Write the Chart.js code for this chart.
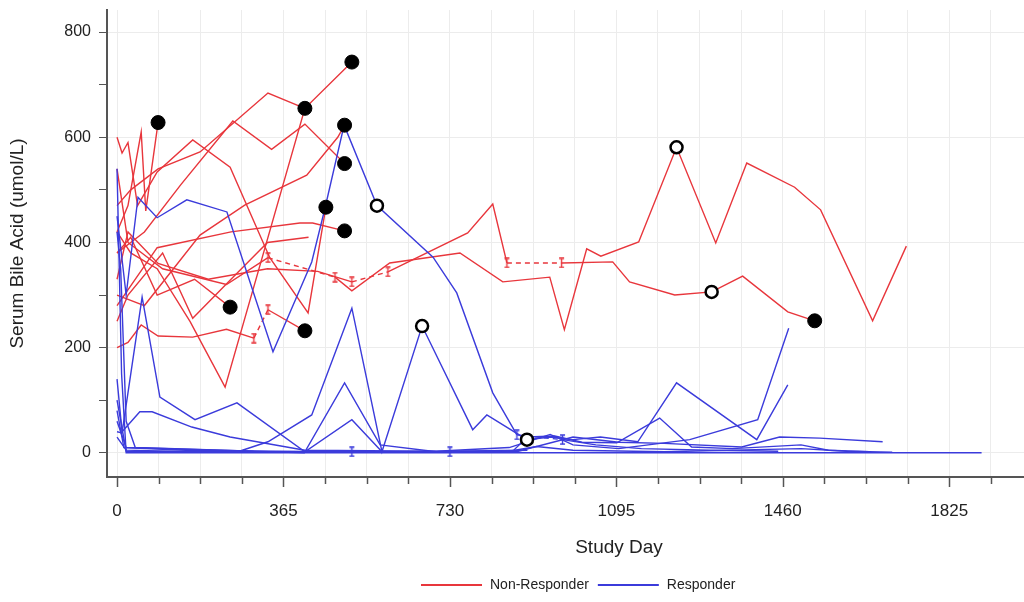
<!DOCTYPE html>
<html>
<head>
<meta charset="utf-8">
<script src="https://cdn.jsdelivr.net/npm/chart.js@4.4.1/dist/chart.umd.min.js"></script>
<style>
  html, body { margin: 0; padding: 0; background: #fff; }
</style>
</head>
<body>
<canvas id="chart" width="1024" height="602"></canvas>
<script>
// Axis labels
const xTickLabels = ['0', '365', '730', '1095', '1460', '1825'];
const yTickLabels = ['0', '200', '400', '600', '800'];
const legendLabels = ['Non-Responder', 'Responder'];

// Non-responders: [study day, serum bile acid]
const nonResponder01 = [[0, 420], [24, 470], [53, 610], [63, 460], [90, 628]];
const nonResponder02 = [[0, 600], [11, 570], [24, 590], [45, 470], [88, 534], [166, 595], [248, 543], [335, 371], [419, 266], [458, 467]];
const nonResponder03 = [[0, 470], [30, 500], [90, 540], [182, 572], [331, 684], [412, 655]];
const nonResponder04 = [[0, 380], [60, 420], [140, 510], [254, 631], [339, 577], [412, 625], [499, 550]];
const nonResponder05 = [[0, 420], [30, 380], [88, 350], [160, 250], [237, 125], [412, 655], [515, 743]];
const nonResponder06 = [[0, 300], [60, 280], [182, 414], [280, 471], [416, 528], [484, 600], [499, 623]];
const nonResponder07 = [[0, 280], [88, 390], [250, 420], [401, 437], [429, 437], [499, 422]];
const nonResponder08 = [[0, 200], [24, 210], [53, 243], [90, 222], [166, 220], [240, 235], [300, 218], [331, 272], [412, 232]];
const nonResponder09 = [[0, 380], [30, 410], [88, 300], [170, 330], [248, 277]];
const nonResponder10 = [[0, 250], [24, 300], [100, 380], [166, 256], [250, 330], [330, 400], [420, 410]];
const nonResponder11 = [[0, 540], [24, 400], [100, 350], [240, 320], [331, 371], [478, 334], [515, 308], [598, 361], [752, 380], [846, 325], [949, 334], [981, 234], [1030, 388], [1061, 374], [1144, 401], [1227, 581], [1313, 399], [1381, 551], [1486, 505], [1543, 462], [1657, 251], [1731, 393]];
const nonResponder12 = [[0, 330], [24, 420], [90, 360], [200, 330], [330, 350], [440, 345], [515, 325], [594, 344], [769, 418], [824, 473], [855, 361], [975, 361], [1087, 363], [1124, 325], [1223, 300], [1304, 306], [1372, 336], [1471, 268], [1530, 251]];

// Responders
const responder01 = [[0, 450], [20, 300], [46, 486], [88, 447], [153, 481], [241, 458], [342, 192], [427, 363], [456, 465], [498, 623], [570, 470], [693, 372], [745, 304], [824, 114], [877, 34], [977, 25], [1050, 15], [1150, 8], [1300, 5], [1450, 3]];
const responder02 = [[0, 540], [10, 150], [20, 0], [400, 0], [900, 0], [1400, 0], [1896, 0]];
const responder03 = [[0, 40], [11, 38], [55, 296], [94, 106], [171, 63], [263, 95], [412, 2], [600, 2], [800, 3], [900, 5]];
const responder04 = [[0, 140], [11, 40], [50, 78], [77, 78], [164, 49], [248, 30], [412, 5], [700, 3], [860, 10], [950, 35], [1000, 15], [1100, 8], [1256, 25], [1405, 63], [1473, 237]];
const responder05 = [[0, 30], [20, 5], [160, 2], [265, 2], [331, 21], [427, 72], [515, 275], [581, 2], [669, 241], [780, 44], [811, 72], [899, 25], [950, 30], [1000, 25], [1060, 30], [1142, 21], [1227, 133], [1403, 25], [1471, 129]];
const responder06 = [[0, 80], [15, 10], [150, 5], [300, 3], [412, 2], [499, 133], [577, 15], [700, 2], [870, 5], [900, 30], [960, 32], [1020, 20], [1096, 19], [1190, 66], [1260, 11], [1350, 8], [1500, 15], [1560, 5], [1650, 2]];
const responder07 = [[0, 100], [20, 3], [412, 2], [515, 63], [581, 2], [880, 3], [1000, 30], [1100, 20], [1200, 18], [1370, 11], [1453, 30], [1541, 28], [1679, 21]];
const responder08 = [[0, 60], [20, 10], [300, 3], [515, 2], [730, 2], [860, 3], [920, 12], [1000, 5], [1200, 2], [1500, 8], [1600, 3], [1700, 1]];
const responder09 = [[0, 420], [8, 350], [20, 60], [40, 10], [300, 3], [412, 0]];

const nonResponders = [nonResponder01, nonResponder02, nonResponder03, nonResponder04, nonResponder05, nonResponder06,
  nonResponder07, nonResponder08, nonResponder09, nonResponder10, nonResponder11, nonResponder12];
const responders = [responder01, responder02, responder03, responder04, responder05, responder06, responder07, responder08, responder09];

// segment start indices drawn dashed (missing visits)
const nonResponderDashes = [[], [], [], [], [], [], [], [6], [], [], [4], [6, 10]];
const responderDashes = [[14], [], [], [], [], [], [], [3], []];

// end-of-follow-up markers
const deathPoints = [[90, 628], [412, 655], [515, 743], [499, 623], [499, 550], [458, 467], [499, 422], [248, 277], [412, 232], [1530, 251]];
const openPoints = [[570, 470], [669, 241], [899, 25], [1227, 581], [1304, 306]];

const RED = '#e8363c';
const BLUE = '#3b3bdb';
const FONT = "'Liberation Sans', Arial, sans-serif";

// small "I" glyph used where a visit gap starts/ends
const makeGapGlyph = (color) => {
    const c = document.createElement('canvas');
    c.width = 9; c.height = 11;
    const g = c.getContext('2d');
    g.strokeStyle = color;
    g.lineWidth = 1.4;
    g.beginPath();
    g.moveTo(4.5, 1); g.lineTo(4.5, 10);
    g.moveTo(2, 1); g.lineTo(7, 1);
    g.moveTo(2, 10); g.lineTo(7, 10);
    g.stroke();
    return c;
};

const toXY = arr => arr.map(p => ({ x: p[0], y: p[1] }));

const subjectDatasets = (list, dashes, color, group, order) => list.map((pts, i) => ({
    label: group + ' ' + (i + 1),
    data: toXY(pts),
    borderColor: color,
    backgroundColor: color,
    borderWidth: 1.4,
    pointRadius: 0,
    fill: false,
    tension: 0,
    order: order,
    segment: {
        borderDash: ctx => dashes[i].includes(ctx.p0DataIndex) ? [5, 4] : undefined
    }
}));

const gapPoints = (list, dashes) => {
    const out = [];
    list.forEach((pts, i) => dashes[i].forEach(k => { out.push(pts[k], pts[k + 1]); }));
    return toXY(out);
};

const datasets = [
    {
        label: 'death', data: toXY(deathPoints), showLine: false, order: 0,
        pointRadius: 7, pointBackgroundColor: '#000', pointBorderColor: '#000', pointBorderWidth: 1
    },
    {
        label: 'open', data: toXY(openPoints), showLine: false, order: 0,
        pointRadius: 6, pointBackgroundColor: '#fff', pointBorderColor: '#000', pointBorderWidth: 2.5
    },
    {
        label: 'gapR', data: gapPoints(nonResponders, nonResponderDashes), showLine: false, order: 1,
        pointStyle: makeGapGlyph(RED)
    },
    {
        label: 'gapB', data: gapPoints(responders, responderDashes), showLine: false, order: 1,
        pointStyle: makeGapGlyph(BLUE)
    },
    ...subjectDatasets(responders, responderDashes, BLUE, 'Responder', 2),
    ...subjectDatasets(nonResponders, nonResponderDashes, RED, 'Non-Responder', 3)
];

const quarterTicks = [];
for (let i = 0; i <= 21; i++) quarterTicks.push(i * 91.25);
const yTicks = [];
for (let v = 0; v <= 800; v += 100) yTicks.push(v);

// x tick marks (longer at whole years), x title and legend drawn by hand
const decorPlugin = {
    id: 'decor',
    afterDraw(chart) {
        const { ctx, chartArea } = chart;
        const x = chart.scales.x;
        ctx.save();
        ctx.strokeStyle = '#555';
        ctx.lineWidth = 1.5;
        quarterTicks.forEach((v, i) => {
            const px = Math.round(x.getPixelForValue(v)) + 0.5;
            ctx.beginPath();
            ctx.moveTo(px, chartArea.bottom + 1);
            ctx.lineTo(px, chartArea.bottom + (i % 4 === 0 ? 10 : 7));
            ctx.stroke();
        });

        ctx.fillStyle = '#222';
        ctx.textBaseline = 'middle';
        ctx.textAlign = 'center';
        ctx.font = '19px ' + FONT;
        ctx.fillText('Study Day', 619, 548);

        // legend
        ctx.textAlign = 'left';
        ctx.font = '14px ' + FONT;
        const ly = 585;
        let lx = 421;
        [RED, BLUE].forEach((color, i) => {
            ctx.strokeStyle = color;
            ctx.lineWidth = 2;
            ctx.beginPath();
            ctx.moveTo(lx, ly);
            ctx.lineTo(lx + 61, ly);
            ctx.stroke();
            lx += 69;
            ctx.fillText(legendLabels[i], lx, ly);
            lx += ctx.measureText(legendLabels[i]).width + 9;
        });
        ctx.restore();
    }
};

new Chart(document.getElementById('chart'), {
    type: 'line',
    data: { datasets },
    plugins: [decorPlugin],
    options: {
        responsive: false,
        animation: false,
        events: [],
        layout: { autoPadding: false, padding: { top: 10, right: 0, bottom: 0, left: 0 } },
        plugins: {
            tooltip: { enabled: false },
            legend: { display: false }
        },
        scales: {
            x: {
                type: 'linear',
                min: -22,
                max: 1989,
                afterBuildTicks: s => { s.ticks = quarterTicks.map(v => ({ value: v })); },
                afterFit: s => { s.height = 125; s.paddingLeft = 0; s.paddingRight = 0; },
                ticks: {
                    autoSkip: false,
                    maxRotation: 0,
                    padding: 16,
                    color: '#222',
                    font: { family: FONT, size: 17 },
                    callback: v => (xTickLabels.includes(String(v)) ? String(v) : '')
                },
                grid: { color: '#ececec', tickColor: 'rgba(0,0,0,0)', tickLength: 8, lineWidth: 1 },
                border: { color: '#555', width: 2 }
            },
            y: {
                min: -46,
                max: 842,
                afterBuildTicks: s => { s.ticks = yTicks.map(v => ({ value: v })); },
                afterFit: s => { s.width = 107; s.paddingTop = 0; s.paddingBottom = 0; },
                ticks: {
                    padding: 8,
                    color: '#222',
                    font: { family: FONT, size: 16 },
                    callback: v => (yTickLabels.includes(String(v)) ? String(v) : '')
                },
                grid: {
                    color: ctx => (ctx.tick && ctx.tick.value % 200 === 0 ? '#ececec' : 'rgba(0,0,0,0)'),
                    tickColor: '#555',
                    tickLength: 8
                },
                border: { color: '#555', width: 2 },
                title: {
                    display: true,
                    text: 'Serum Bile Acid (umol/L)',
                    color: '#222',
                    font: { family: FONT, size: 19 },
                    padding: { top: 6, bottom: 0 }
                }
            }
        }
    }
});
</script>
</body>
</html>
